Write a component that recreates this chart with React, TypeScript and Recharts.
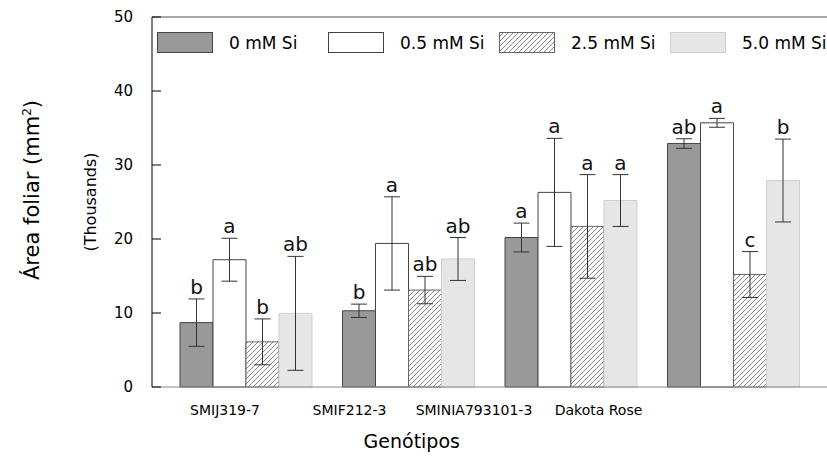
import { BarChart, Bar, XAxis, YAxis, ErrorBar, LabelList, ReferenceLine } from 'recharts';

const genotypes = ['SMIJ319-7', 'SMIF212-3', 'SMINIA793101-3', 'Dakota Rose'];
const treatments = ['0 mM Si', '0.5 mM Si', '2.5 mM Si', '5.0 mM Si'];

const mean0 = [8.7, 10.3, 20.2, 32.9];
const err0 = [3.2, 0.9, 1.95, 0.65];
const letters0 = ['b', 'b', 'a', 'ab'];

const mean05 = [17.2, 19.4, 26.3, 35.7];
const err05 = [2.9, 6.3, 7.3, 0.6];
const letters05 = ['a', 'a', 'a', 'a'];

const mean25 = [6.1, 13.1, 21.7, 15.2];
const err25 = [3.1, 1.85, 7.0, 3.1];
const letters25 = ['b', 'ab', 'a', 'c'];

const mean50 = [9.95, 17.3, 25.2, 27.9];
const err50 = [7.7, 2.9, 3.5, 5.6];
const letters50 = ['ab', 'ab', 'a', 'b'];

const yTicks = [0, 10, 20, 30, 40, 50];

const data = genotypes.map((name, i) => ({
  name,
  m0: mean0[i], e0: err0[i], l0: letters0[i],
  m05: mean05[i], e05: err05[i], l05: letters05[i],
  m25: mean25[i], e25: err25[i], l25: letters25[i],
  m50: mean50[i], e50: err50[i], l50: letters50[i],
}));

const FONT = '"DejaVu Sans", sans-serif';

const series = [
  { key: 'm0', err: 'e0', lab: 'l0', means: mean0, errs: err0, fill: '#999999', stroke: '#444' },
  { key: 'm05', err: 'e05', lab: 'l05', means: mean05, errs: err05, fill: '#ffffff', stroke: '#444' },
  { key: 'm25', err: 'e25', lab: 'l25', means: mean25, errs: err25, fill: 'url(#hatch)', stroke: '#666' },
  { key: 'm50', err: 'e50', lab: 'l50', means: mean50, errs: err50, fill: '#e6e6e6', stroke: '#cfcfcf' },
];

// letter sits just above the error bar cap
const letterContent = (means: number[], errs: number[]) => (props: any) => {
  const vb = props.viewBox ?? props;
  const i = props.index;
  const pxPer = vb.height / means[i];
  const top = vb.y - errs[i] * pxPer;
  return (
    <text x={vb.x + vb.width / 2} y={top - 5} textAnchor="middle" fontSize={20} fontFamily={FONT} fill="#111">
      {props.value}
    </text>
  );
};

const YTick = (props: any) => {
  const { x, y, payload } = props;
  return (
    <g>
      <line x1={x + 19} x2={x + 28} y1={y} y2={y} stroke="#000" />
      <text x={x} y={y} dy="0.355em" textAnchor="end" fontSize={15} fontFamily={FONT} fill="#000">
        {payload.value}
      </text>
    </g>
  );
};

const YTitle = (props: any) => {
  const vb = props.viewBox;
  const cy = vb.y + vb.height / 2;
  return (
    <g fontFamily={FONT} fill="#000">
      <text transform={`translate(32, ${cy - 12}) rotate(-90)`} textAnchor="middle" dy="0.35em" fontSize={21}>
        Área foliar (mm<tspan fontSize={12} dy="-8">2</tspan><tspan dy="8">)</tspan>
      </text>
      <text transform={`translate(90, ${cy}) rotate(-90)`} textAnchor="middle" dy="0.35em" fontSize={16}>
        (Thousands)
      </text>
    </g>
  );
};

const labPad = { left: 10.75, right: 166.25 };

const XTitle = (props: any) => {
  const vb = props.viewBox;
  const inner = vb.width - labPad.left - labPad.right;
  return (
    <text x={vb.x + labPad.left + inner / 2} y={441} dy="0.35em" textAnchor="middle" fontSize={19} fontFamily={FONT} fill="#000">
      Genótipos
    </text>
  );
};

const Swatch = ({ fill, stroke }: { fill: string; stroke: string }) => (
  <svg width={56} height={21} style={{ display: 'block' }}>
    <rect x={0.5} y={0.5} width={55} height={20} fill={fill} stroke={stroke} />
  </svg>
);

export default function App() {
  return (
    <div style={{ position: 'absolute', left: 0, top: 0, width: 827, height: 457, background: '#fff' }}>
      <svg width={0} height={0} style={{ position: 'absolute' }}>
        <defs>
          <pattern id="hatch" patternUnits="userSpaceOnUse" width={5} height={5}>
            <rect width={5} height={5} fill="#fff" />
            <path d="M0,5 L5,0 M-1,1 L1,-1 M4,6 L6,4" stroke="#555" strokeWidth={0.7} />
          </pattern>
        </defs>
      </svg>
      <BarChart
        width={827}
        height={457}
        data={data}
        margin={{ top: 17, right: 0, bottom: 0, left: 0 }}
        barCategoryGap="10%"
        barGap={0}
      >
        <XAxis xAxisId="main" dataKey="name" hide padding={{ left: 11.75, right: 13.25 }} />
        <XAxis
          xAxisId="lab"
          dataKey="name"
          height={70}
          padding={labPad}
          axisLine={{ stroke: '#888' }}
          tickLine={false}
          tickMargin={12}
          tick={{ fontSize: 14, fontFamily: FONT, fill: '#000' }}
          label={{ content: XTitle }}
        />
        <YAxis
          width={152}
          domain={[0, 50]}
          ticks={yTicks}
          axisLine={{ stroke: '#000' }}
          tickLine={false}
          tickSize={0}
          tickMargin={19}
          tick={YTick}
          label={{ content: YTitle }}
        />
        <ReferenceLine xAxisId="main" y={50} stroke="#555" />
        {series.map((s) => (
          <Bar
            key={s.key}
            xAxisId="main"
            dataKey={s.key}
            fill={s.fill}
            stroke={s.stroke}
            isAnimationActive={false}
          >
            <ErrorBar dataKey={s.err} width={8} stroke="#333" strokeWidth={1} />
            <LabelList dataKey={s.lab} content={letterContent(s.means, s.errs)} />
          </Bar>
        ))}
      </BarChart>
      <div
        style={{
          position: 'absolute',
          left: 157,
          top: 32,
          display: 'flex',
          fontFamily: FONT,
          fontSize: 17,
          color: '#000',
        }}
      >
        {treatments.map((t, i) => (
          <div key={t} style={{ display: 'flex', alignItems: 'center', width: 171 }}>
            <Swatch fill={series[i].fill} stroke={series[i].stroke} />
            <span style={{ marginLeft: 16, whiteSpace: 'nowrap' }}>{t}</span>
          </div>
        ))}
      </div>
    </div>
  );
}
